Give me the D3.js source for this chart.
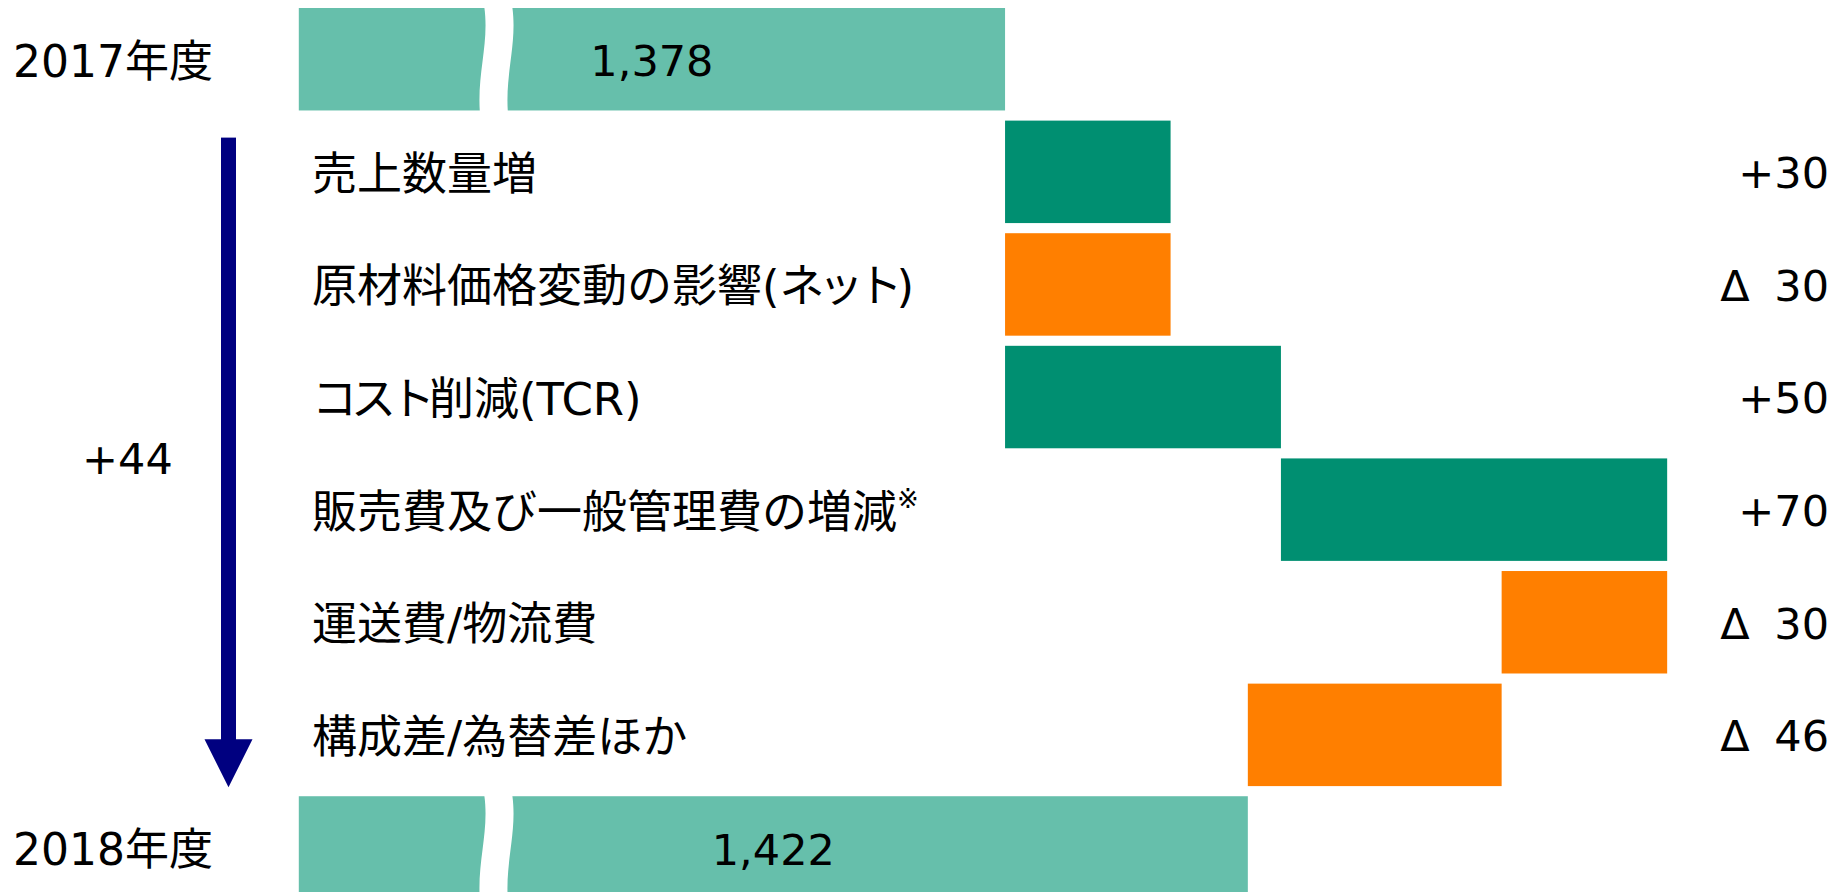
<!DOCTYPE html>
<html>
<head>
<meta charset="utf-8">
<script src="https://cdn.jsdelivr.net/npm/d3@7"></script>
<style>
  body { margin: 0; background: #fff; }
  svg { display: block; }
  text { font-family: 'DejaVu Sans', 'Noto Sans CJK JP', sans-serif; fill: #000; }
</style>
</head>
<body>
<div id="chart"></div>
<script>
let width = 1847;
let height = 892;

// data
let years = ["2017年度", "2018年度"];
let totals = [1378, 1422];
let totalLabels = ["1,378", "1,422"];
let categories = ["売上数量増", "原材料価格変動の影響(ネット)", "コスト削減(TCR)", "販売費及び一般管理費の増減", "運送費/物流費", "構成差/為替差ほか"];
let deltas = [30, -30, 50, 70, -30, -46];
let deltaLabels = ["+30", "Δ 30", "+50", "+70", "Δ 30", "Δ 46"];
let changeLabel = "+44";

let colTotal = "#66bfab";
let colUp = "#008f71";
let colDown = "#ff7f00";

let svg = d3.select("#chart").append("svg")
    .attr("width", width)
    .attr("height", height);

// axis is broken: bars start at 1250
let x = d3.scaleLinear().domain([1250, 1500]).range([298.8, 1678.2]);
let rows = d3.range(categories.length + 2);
let y = d3.scaleBand().domain(rows).range([8, 898.7]).paddingInner(0.09);

// running totals for waterfall
let steps = [];
let run = totals[0];
deltas.forEach((d, i) => {
    steps.push({ name: categories[i], from: run, to: run + d, value: d, label: deltaLabels[i], row: i + 1 });
    run += d;
});

let totalRows = [
    { name: years[0], value: totals[0], label: totalLabels[0], row: 0 },
    { name: years[1], value: totals[1], label: totalLabels[1], row: rows.length - 1 }
];

// total bars with break
let tot = svg.append("g").selectAll("g")
    .data(totalRows)
    .enter().append("g");

tot.append("rect")
    .attr("x", x(1250))
    .attr("y", d => y(d.row))
    .attr("width", d => x(d.value) - x(1250))
    .attr("height", y.bandwidth())
    .attr("fill", colTotal);

tot.append("path")
    .attr("d", d => {
        let t = y(d.row) - 1, b = y(d.row) + y.bandwidth() + 1, h = b - t;
        let bx = x(1250) + 185.5, w = 28;
        return `M${bx},${t} C${bx + 5},${t + h * 0.35} ${bx - 7},${t + h * 0.62} ${bx - 4.5},${b}` +
               ` L${bx - 4.5 + w},${b} C${bx - 7 + w},${t + h * 0.62} ${bx + 5 + w},${t + h * 0.35} ${bx + w},${t} Z`;
    })
    .attr("fill", "#fff");

tot.append("text")
    .attr("x", d => (x(1250) + x(d.value)) / 2)
    .attr("y", d => y(d.row) + y.bandwidth() / 2)
    .attr("dy", "0.4em")
    .attr("text-anchor", "middle")
    .style("font-size", "43px")
    .text(d => d.label);

tot.append("text")
    .attr("x", 13)
    .attr("y", d => y(d.row) + y.bandwidth() / 2)
    .attr("dy", "0.4em")
    .style("font-size", "44px")
    .text(d => d.name);

// delta bars
let st = svg.append("g").selectAll("g")
    .data(steps)
    .enter().append("g");

st.append("rect")
    .attr("x", d => x(Math.min(d.from, d.to)))
    .attr("y", d => y(d.row))
    .attr("width", d => Math.abs(x(d.to) - x(d.from)))
    .attr("height", y.bandwidth())
    .attr("fill", d => d.value >= 0 ? colUp : colDown);

let catText = st.append("text")
    .attr("x", 312)
    .attr("y", d => y(d.row) + y.bandwidth() / 2)
    .attr("dy", "0.4em")
    .style("font-size", "45px");

// katakana runs are set a little tighter, like the original font
catText.each(function(d) {
    let t = d3.select(this);
    d.name.split(/([\u30A0-\u30FF]+)/).filter(s => s.length).forEach(s => {
        let sp = t.append("tspan").text(s);
        if (/[\u30A0-\u30FF]/.test(s)) sp.style("letter-spacing", "-6px");
    });
});

// footnote mark on SG&A row
catText.filter((d, i) => i == 3)
    .append("tspan")
    .attr("dy", "-0.75em")
    .style("font-size", "26px")
    .text("※");

let valText = st.append("text")
    .attr("x", 1829)
    .attr("y", d => y(d.row) + y.bandwidth() / 2)
    .attr("dy", "0.38em")
    .attr("text-anchor", "end")
    .style("font-size", "43px");

valText.each(function(d) {
    let t = d3.select(this);
    if (d.label.startsWith("Δ")) {
        t.append("tspan").style("letter-spacing", "11px").text("Δ");
        t.append("tspan").text(d.label.slice(1));
    } else {
        t.text(d.label);
    }
});

// overall change arrow
let arrowTop = y(1) + 17;
let arrowEnd = y(rows.length - 1) - 9;
let ax = 228.5;
svg.append("rect")
    .attr("x", ax - 7.5)
    .attr("y", arrowTop)
    .attr("width", 15)
    .attr("height", arrowEnd - arrowTop - 40)
    .attr("fill", "#000080");
svg.append("path")
    .attr("d", `M${ax - 24},${arrowEnd - 48} L${ax + 24},${arrowEnd - 48} L${ax},${arrowEnd} Z`)
    .attr("fill", "#000080");

svg.append("text")
    .attr("x", 82)
    .attr("y", (y(1) + y(rows.length - 1)) / 2 + 16)
    .style("font-size", "43px")
    .text(changeLabel);
</script>
</body>
</html>
